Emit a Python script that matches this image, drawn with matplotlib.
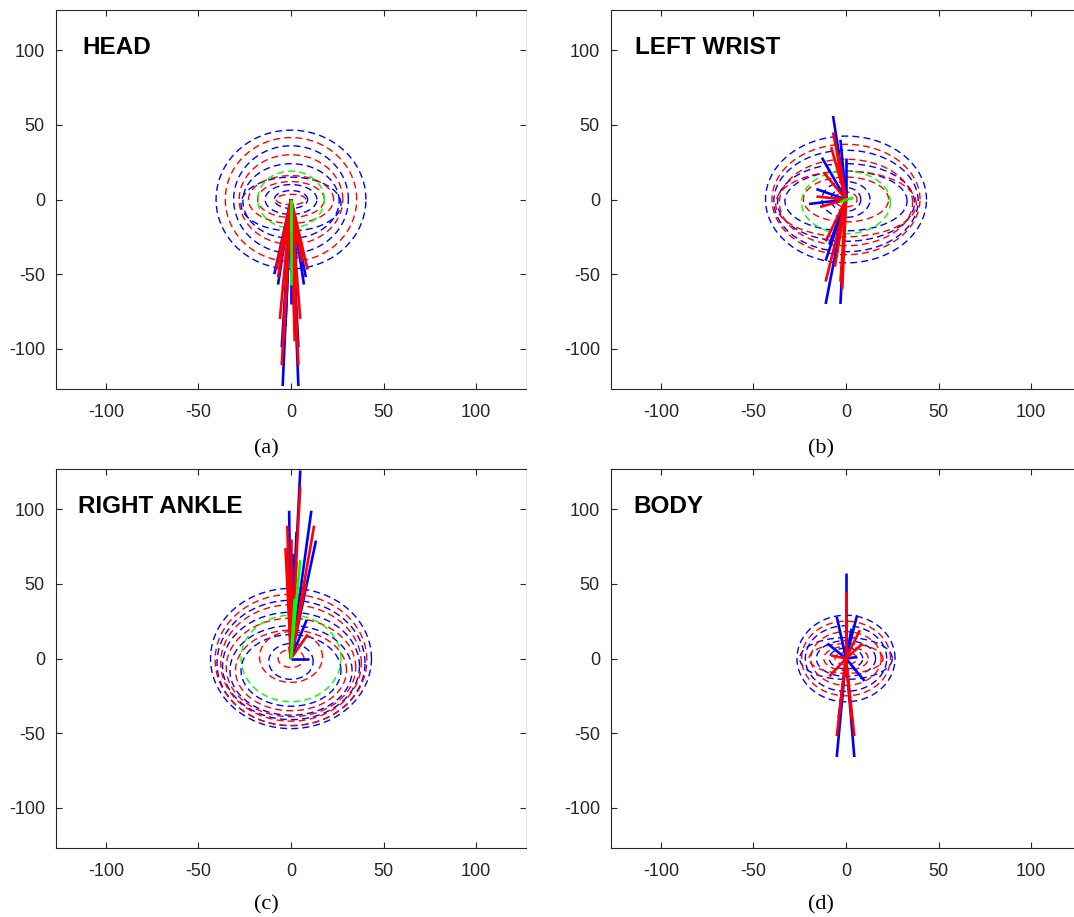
import numpy as np
import matplotlib
matplotlib.use("Agg")
import matplotlib.pyplot as plt

plt.rcParams["axes.unicode_minus"] = False

# panel names and sub-labels
titles = ["HEAD", "LEFT WRIST", "RIGHT ANKLE", "BODY"]
sublabels = ["(a)", "(b)", "(c)", "(d)"]
ticks = [-100, -50, 0, 50, 100]

# dashed rings: (semi-axis x, semi-axis y, centre y)
head_rings_blue = [(40.5, 46.5, 0), (31, 36, 0), (26, 25, -1), (27, 18, -3), (14, 10, 0), (9, 6, 0)]
head_rings_red = [(35.5, 41.5, 0), (28, 30, 0), (23, 16, 0), (18, 12, 0), (8, 3.5, 0)]
head_rings_green = [(18, 19, 0)]

wrist_rings_blue = [(43.5, 42.5, 0), (39, 34, -1), (37, 26, -2), (33, 20, -1), (13, 12, 0), (8, 8, 0)]
wrist_rings_red = [(40, 37, 0), (36, 29, -2), (38, 22, -3), (23, 15, 0), (6, 5, 0)]
wrist_rings_green = [(24, 21, -2)]

ankle_rings_blue = [(43.5, 47, 0), (40, 42, -3), (37, 36, -5), (33, 30, -8), (27, 24, -8), (12, 12, -2)]
ankle_rings_red = [(41, 44, -1), (38, 39, -3), (35, 33, -6), (30, 27, -8), (17, 17, 1), (7, 6, 0)]
ankle_rings_green = [(27, 29, 0)]

body_rings_blue = [(26.5, 29, 0), (22, 22, 0), (25, 14, 0), (16, 12, 0), (9, 7, 0)]
body_rings_red = [(24, 25, 0), (19, 18, 0), (20, 10, 0), (12, 8, 0), (6, 4, 0)]
body_rings_green = []

# solid lines from the origin: end points (x, y)
head_lines_blue = [(-4.5, -125), (4, -125), (-5, -99), (4, -99), (-9, -50), (8, -52),
                   (-7, -57), (7, -57), (0, -70), (-2, -40), (3, -40), (-3, -85),
                   (2, -85), (-6, -45), (6, -45)]
head_lines_red = [(-5, -111), (4, -111), (-6, -80), (5, -80), (-8, -47), (9, -47),
                  (-6, -38), (7, -38), (-3, -30), (3, -30), (-4, -95), (2, -95),
                  (-7, -52), (6, -42)]
head_lines_green = [(0, -57), (0, -22)]

wrist_lines_blue = [(-7, 56), (-11, -70), (-3, -70), (0, 28), (-13, 28), (-16, 7),
                    (-11, -41), (-4, 26), (-20, -3), (-6, -42), (-9, -30), (-3, 40)]
wrist_lines_red = [(-7, 45), (-11, -55), (-3, -55), (-16, 2), (-11, -28), (-12, 18),
                   (-8, 35), (-14, -5), (-6, -45), (-2, -60), (-4, 30)]
wrist_lines_green = [(4, 1), (-3, -2)]

ankle_lines_blue = [(5, 126), (-1, 99), (11, 99), (13.5, 79), (8.5, 26), (9.5, 0),
                    (-2, 60), (3, 85), (1, 70)]
ankle_lines_red = [(5, 115), (-2, 89), (12.5, 89), (-3, 74), (9, 16), (-1, 8),
                   (3, 65), (8, 50), (0, 80), (6, 40)]
ankle_lines_green = [(5, 66), (2, 40)]

body_lines_blue = [(0, 57), (-5, -66), (4.5, -66), (6, 29), (-5, 28), (6, 1),
                   (-4, -40), (-10, 10), (10, -15), (3, 20)]
body_lines_red = [(0, 45), (-5, -52), (4.5, -52), (7.5, 19), (-8, 2), (3, -40),
                  (-9, -12), (9, 10), (-3, -30)]
body_lines_green = []

rings = [
    (head_rings_blue, head_rings_red, head_rings_green),
    (wrist_rings_blue, wrist_rings_red, wrist_rings_green),
    (ankle_rings_blue, ankle_rings_red, ankle_rings_green),
    (body_rings_blue, body_rings_red, body_rings_green),
]
lines = [
    (head_lines_blue, head_lines_red, head_lines_green),
    (wrist_lines_blue, wrist_lines_red, wrist_lines_green),
    (ankle_lines_blue, ankle_lines_red, ankle_lines_green),
    (body_lines_blue, body_lines_red, body_lines_green),
]
colors = ["#0000ff", "#ff0000", "#00ff00"]

W, H = 1074, 917
fig = plt.figure(figsize=(W / 100, H / 100), dpi=100)

# axes boxes in pixels: left, top
boxes = [(56, 10), (611, 10), (56, 469), (611, 469)]
ax_w, ax_h = 470, 379
label_pos = [(266, 449), (821, 449), (266, 905), (821, 905)]
title_x = [-113, -114, -115, -115]

t = np.linspace(0, 2 * np.pi, 200)

for k in range(4):
    left, top = boxes[k]
    ax = fig.add_axes([left / W, 1 - (top + ax_h) / H, ax_w / W, ax_h / H])
    for ring_set, c in zip(rings[k], colors):
        for a, b, cy in ring_set:
            ax.plot(a * np.cos(t), b * np.sin(t) + cy, color=c, lw=1.0,
                    linestyle=(0, (5, 3)))
    for line_set, c in zip(lines[k], colors):
        for x, y in line_set:
            ax.plot([0, x], [0, y], color=c, lw=1.9, solid_capstyle="butt")

    ax.set_xlim(-127, 127)
    ax.set_ylim(-127, 127)
    ax.set_xticks(ticks)
    ax.set_yticks(ticks)
    ax.tick_params(direction="in", length=4, width=0.8, top=True, right=True,
                   labelsize=13, labelcolor="#262626", color="#262626")
    ax.tick_params(axis="x", pad=11)
    ax.tick_params(axis="y", pad=8)
    for lab in ax.get_xticklabels() + ax.get_yticklabels():
        lab.set_family("Liberation Sans")
    for s in ["left", "bottom", "top"]:
        ax.spines[s].set_color("#262626")
        ax.spines[s].set_linewidth(0.8)
    ax.spines["right"].set_color("#e6e6e6")

    ax.text(title_x[k], 102, titles[k], fontsize=17.5, fontweight="bold",
            family="Liberation Sans", va="center", ha="left", color="black")

    lx, ly = label_pos[k]
    fig.text(lx / W, 1 - ly / H, sublabels[k], fontsize=16, family="Liberation Serif",
             ha="center", va="center")

fig.savefig("out.png", dpi=100)
